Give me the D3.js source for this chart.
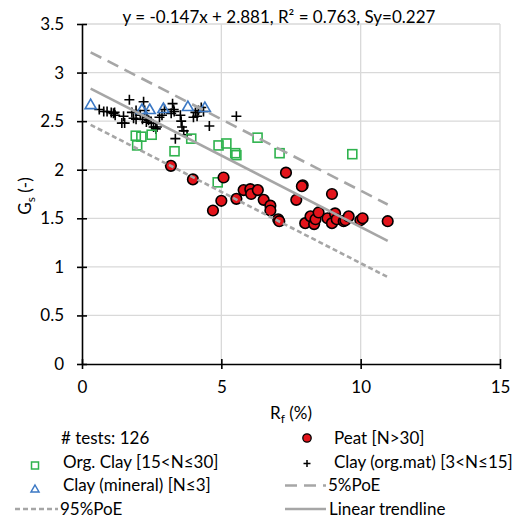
<!DOCTYPE html>
<html>
<head>
<meta charset="utf-8">
<script src="https://cdn.jsdelivr.net/npm/d3@7"></script>
<style>
    body { margin: 0; background: #fff; }
    text { font-family: Lato, "Open Sans", sans-serif; fill: #000; }
</style>
</head>
<body>
<div id="chart"></div>
<script>
// regression summary
var slope = -0.147;
var intercept = 2.881;
var r2 = 0.763;
var sy = 0.227;
var poeZ = 1.645;
var nTests = 126;

var xTicks = [0, 5, 10, 15];
var yTicks = [0, 0.5, 1, 1.5, 2, 2.5, 3, 3.5];

// Peat [N>30]
var peat = [
    [3.19, 2.04], [3.98, 1.90], [5.08, 1.92], [5.00, 1.68], [4.70, 1.58],
    [5.54, 1.70], [5.80, 1.79], [6.04, 1.80], [6.07, 1.75], [6.31, 1.79],
    [6.52, 1.69], [6.76, 1.63], [6.76, 1.58], [7.04, 1.49], [7.08, 1.47],
    [7.32, 1.97], [7.69, 1.69], [7.92, 1.84], [7.89, 1.83], [8.01, 1.45],
    [8.20, 1.52], [8.33, 1.44], [8.38, 1.49], [8.49, 1.56], [8.81, 1.50],
    [8.97, 1.75], [8.97, 1.45], [9.08, 1.55], [9.14, 1.49], [9.39, 1.47],
    [9.45, 1.48], [9.57, 1.52], [9.99, 1.48], [10.07, 1.50], [10.97, 1.47]
];

// Org. Clay [15<N<=30]
var orgClay = [
    [1.93, 2.35], [2.13, 2.34], [1.98, 2.25], [2.50, 2.36], [3.32, 2.19],
    [3.92, 2.32], [4.90, 2.25], [5.18, 2.27], [5.50, 2.17], [5.54, 2.15],
    [6.30, 2.33], [7.09, 2.17], [9.70, 2.16], [4.87, 1.87]
];

// Clay (org.mat) [3<N<=15]
var clayOrgMat = [
    [0.62, 2.62], [0.78, 2.60], [0.90, 2.60], [1.05, 2.59], [1.13, 2.58],
    [1.17, 2.59], [1.19, 2.56], [1.43, 2.48], [1.49, 2.55], [1.53, 2.48],
    [1.70, 2.72], [1.79, 2.59], [1.85, 2.53], [1.94, 2.61], [1.94, 2.52],
    [2.09, 2.56], [2.17, 2.52], [2.21, 2.70], [2.25, 2.61], [2.31, 2.49],
    [2.33, 2.54], [2.39, 2.51], [2.49, 2.48], [2.57, 2.44], [2.65, 2.42],
    [2.69, 2.44], [2.78, 2.54], [2.87, 2.56], [2.96, 2.62], [3.20, 2.58],
    [3.25, 2.68], [3.29, 2.62], [3.31, 2.60], [3.35, 2.32], [3.53, 2.56],
    [3.56, 2.50], [3.59, 2.44], [3.65, 2.40], [3.77, 2.36], [4.00, 2.54],
    [4.07, 2.59], [4.13, 2.55], [4.18, 2.61], [4.28, 2.64], [4.36, 2.60],
    [4.57, 2.45], [5.54, 2.55]
];

// Clay (mineral) [N<=3]
var clayMineral = [
    [0.31, 2.67], [2.15, 2.62], [2.43, 2.62], [2.92, 2.63], [3.80, 2.65], [4.41, 2.64]
];

var width = 526;
var height = 522;
var margin = { top: 24, left: 82 };
var plotW = 418;
var plotH = 340;

var colors = {
    peat: '#e3141b',
    orgClay: '#2fb34e',
    clayMineral: '#3b78c4',
    trend: '#a6a6a6',
    grid: '#d9d9d9'
};

var svg = d3
    .select('#chart')
    .append('svg')
    .attr('width', width)
    .attr('height', height);

var x = d3.scaleLinear().domain([0, 15]).range([margin.left, margin.left + plotW]);
var y = d3.scaleLinear().domain([0, 3.5]).range([margin.top + plotH, margin.top]);

// grid
svg.append('g')
    .selectAll('line')
    .data(yTicks.slice(1))
    .join('line')
    .attr('x1', x(0))
    .attr('x2', x(15))
    .attr('y1', d => y(d))
    .attr('y2', d => y(d))
    .attr('stroke', colors.grid)
    .attr('stroke-width', 1.3);

svg.append('g')
    .selectAll('line')
    .data(xTicks.slice(1))
    .join('line')
    .attr('x1', d => x(d))
    .attr('x2', d => x(d))
    .attr('y1', y(0))
    .attr('y2', y(3.5))
    .attr('stroke', colors.grid)
    .attr('stroke-width', 1.3);

// axes
var xAxis = d3.axisBottom(x).tickValues(xTicks).tickSizeInner(5).tickSizeOuter(0).tickPadding(14);
var yAxis = d3.axisLeft(y).tickValues(yTicks).tickSizeInner(5).tickSizeOuter(0).tickPadding(14)
    .tickFormat(d => d);

var gx = svg.append('g')
    .attr('transform', 'translate(0,' + y(0) + ')')
    .call(xAxis);
var gy = svg.append('g')
    .attr('transform', 'translate(' + x(0) + ',0)')
    .call(yAxis);

[gx, gy].forEach(g => {
    g.select('.domain').attr('stroke', '#000').attr('stroke-width', 1.6);
    g.selectAll('.tick line').attr('stroke', '#000').attr('stroke-width', 1.6);
    g.selectAll('.tick text').attr('font-size', 17).attr('font-family', 'Lato, sans-serif').attr('fill', '#000');
});
// ticks cross the axis line
gx.selectAll('.tick line').attr('y1', -5);
gy.selectAll('.tick line').attr('x1', 5);
gx.selectAll('.tick text').attr('dy', '0.71em').attr('y', 17);
gy.selectAll('.tick text').attr('x', -18);

// markers
var crossPath = 'M-5,0H5M0,-5V5';
var triPath = 'M0,-5.5L5.5,4L-5.5,4Z';

svg.append('g')
    .selectAll('path')
    .data(clayOrgMat)
    .join('path')
    .attr('transform', d => 'translate(' + x(d[0]) + ',' + y(d[1]) + ')')
    .attr('d', crossPath)
    .attr('stroke', '#000')
    .attr('stroke-width', 1.6)
    .attr('fill', 'none');

svg.append('g')
    .selectAll('path')
    .data(clayMineral)
    .join('path')
    .attr('transform', d => 'translate(' + x(d[0]) + ',' + y(d[1]) + ')')
    .attr('d', triPath)
    .attr('stroke', colors.clayMineral)
    .attr('stroke-width', 1.6)
    .attr('fill', 'none');

svg.append('g')
    .selectAll('rect')
    .data(orgClay)
    .join('rect')
    .attr('x', d => x(d[0]) - 4.5)
    .attr('y', d => y(d[1]) - 4.5)
    .attr('width', 9)
    .attr('height', 9)
    .attr('stroke', colors.orgClay)
    .attr('stroke-width', 1.6)
    .attr('fill', 'none');

svg.append('g')
    .selectAll('circle')
    .data(peat)
    .join('circle')
    .attr('cx', d => x(d[0]))
    .attr('cy', d => y(d[1]))
    .attr('r', 5.3)
    .attr('fill', colors.peat)
    .attr('stroke', '#000')
    .attr('stroke-width', 1.6);

// trendline and probability of exceedance lines
var allX = [].concat(peat, orgClay, clayOrgMat, clayMineral).map(d => d[0]);
var xExt = d3.extent(allX);
var offset = poeZ * sy;
var lines = [
    { shift: offset, dash: '12,7' },
    { shift: 0, dash: null },
    { shift: -offset, dash: '5,3' }
];

svg.append('g')
    .selectAll('line')
    .data(lines)
    .join('line')
    .attr('x1', x(xExt[0]))
    .attr('x2', x(xExt[1]))
    .attr('y1', d => y(intercept + slope * xExt[0] + d.shift))
    .attr('y2', d => y(intercept + slope * xExt[1] + d.shift))
    .attr('stroke', colors.trend)
    .attr('stroke-width', 2.6)
    .attr('stroke-dasharray', d => d.dash);

// equation
svg.append('text')
    .attr('x', 279)
    .attr('y', 23)
    .attr('text-anchor', 'middle')
    .attr('font-size', 17)
    .text('y = ' + slope + 'x + ' + intercept + ', R\u00b2 = ' + r2 + ', Sy=' + sy);

// axis labels
var yl = svg.append('text')
    .attr('text-anchor', 'middle')
    .attr('font-size', 17)
    .attr('transform', 'translate(31,' + (y(1.75) + 2) + ') rotate(-90)');
yl.append('tspan').text('G');
yl.append('tspan').attr('font-size', 12).attr('dy', 4).text('s');
yl.append('tspan').attr('dy', -4).text(' (-)');

var xl = svg.append('text')
    .attr('x', x(7.5))
    .attr('y', 419)
    .attr('text-anchor', 'middle')
    .attr('font-size', 17);
xl.append('tspan').text('R');
xl.append('tspan').attr('font-size', 12).attr('dy', 4).text('f');
xl.append('tspan').attr('dy', -4).text(' (%)');

// legend
var legend = svg.append('g').attr('font-size', 17);
var rowY = [444, 467.5, 491, 514.5];

legend.append('text').attr('x', 61).attr('y', rowY[0]).text('# tests: ' + nTests);

legend.append('circle')
    .attr('cx', 307).attr('cy', rowY[0] - 6).attr('r', 4.2)
    .attr('fill', colors.peat).attr('stroke', '#000').attr('stroke-width', 1.3);
legend.append('text').attr('x', 334).attr('y', rowY[0]).text('Peat [N>30]');

legend.append('rect')
    .attr('x', 31.5).attr('y', rowY[1] - 2 - 3.5).attr('width', 7).attr('height', 7)
    .attr('fill', 'none').attr('stroke', colors.orgClay).attr('stroke-width', 1.5);
legend.append('text').attr('x', 63).attr('y', rowY[1]).text('Org. Clay [15<N\u226430]');

legend.append('path')
    .attr('transform', 'translate(307,' + (rowY[1] - 4) + ')')
    .attr('d', 'M-3.5,0H3.5M0,-3.5V3.5')
    .attr('stroke', '#000').attr('stroke-width', 1.5);
legend.append('text').attr('x', 334).attr('y', rowY[1]).text('Clay (org.mat) [3<N\u226415]');

legend.append('path')
    .attr('transform', 'translate(35,' + (rowY[2] - 2) + ')')
    .attr('d', 'M0,-4L4,3L-4,3Z')
    .attr('fill', 'none').attr('stroke', colors.clayMineral).attr('stroke-width', 1.5);
legend.append('text').attr('x', 63).attr('y', rowY[2]).text('Clay (mineral) [N\u22643]');

legend.append('line')
    .attr('x1', 285).attr('x2', 326).attr('y1', rowY[2] - 5.5).attr('y2', rowY[2] - 5.5)
    .attr('stroke', colors.trend).attr('stroke-width', 2.6).attr('stroke-dasharray', '12,7');
legend.append('text').attr('x', 328).attr('y', rowY[2]).text('5%PoE');

legend.append('line')
    .attr('x1', 15).attr('x2', 58).attr('y1', rowY[3] - 5.5).attr('y2', rowY[3] - 5.5)
    .attr('stroke', colors.trend).attr('stroke-width', 2.6).attr('stroke-dasharray', '5,3');
legend.append('text').attr('x', 60).attr('y', rowY[3]).text('95%PoE');

legend.append('line')
    .attr('x1', 285).attr('x2', 326).attr('y1', rowY[3] - 5.5).attr('y2', rowY[3] - 5.5)
    .attr('stroke', colors.trend).attr('stroke-width', 2.6);
legend.append('text').attr('x', 329).attr('y', rowY[3]).text('Linear trendline');
</script>
</body>
</html>
